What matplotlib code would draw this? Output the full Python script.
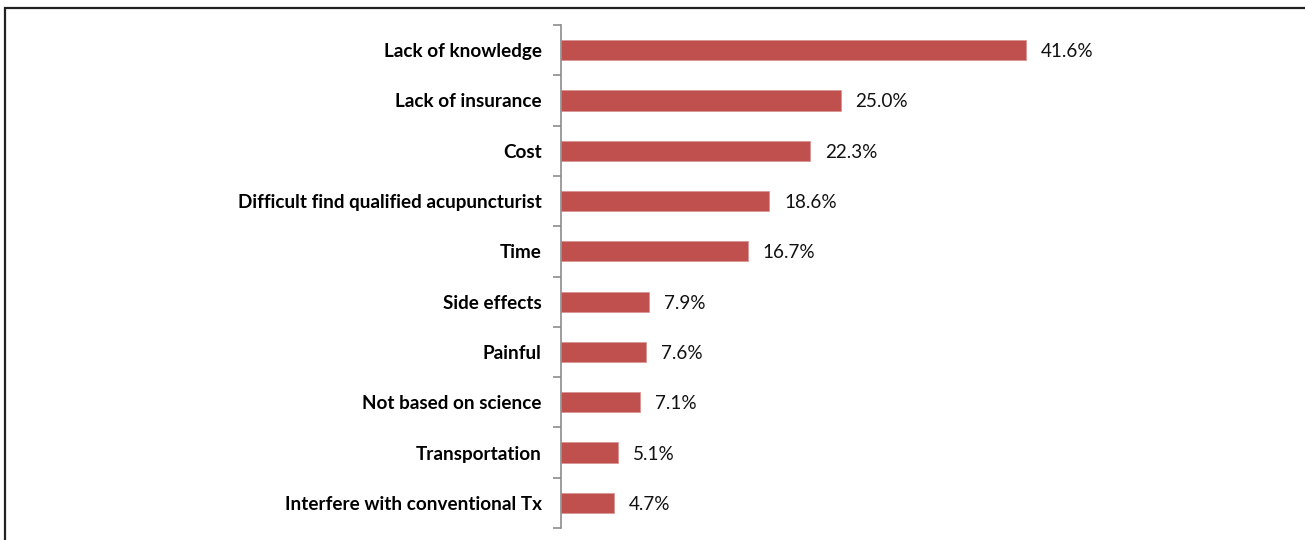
import matplotlib.pyplot as plt
from matplotlib.patches import Rectangle

# reasons for not using acupuncture (% of respondents)
reasons = [
    "Lack of knowledge",
    "Lack of insurance",
    "Cost",
    "Difficult find qualified acupuncturist",
    "Time",
    "Side effects",
    "Painful",
    "Not based on science",
    "Transportation",
    "Interfere with conventional Tx",
]
percent = [41.6, 25.0, 22.3, 18.6, 16.7, 7.9, 7.6, 7.1, 5.1, 4.7]

plt.rcParams['font.family'] = ['Lato', 'DejaVu Sans']

W, H = 1305, 540
fig = plt.figure(figsize=(W / 100, H / 100), dpi=100)

# frame around the chart (top and left edges visible)
fig.patches.append(Rectangle((5 / W, -0.1), 1.2, 1 - 8 / H + 0.1,
                             transform=fig.transFigure, fill=False,
                             edgecolor="#222222", linewidth=1.6))

ax = fig.add_axes([561 / W, 1 - 528 / H, 559 / W, (528 - 25) / H])

y = list(range(len(reasons)))
ax.barh(y, percent, height=0.4, color="#C0504D", edgecolor="#D99694",
        linewidth=0.6)

for yi, v in zip(y, percent):
    ax.text(v + 1.35, yi + 0.03, f"{v:.1f}%", va="center", ha="left",
            fontsize=13.6, color="#111111")

ax.set_xlim(0, 50)
ax.set_ylim(len(reasons) - 0.5, -0.5)
ax.set_yticks([i - 0.5 for i in range(len(reasons) + 1)])
ax.set_yticklabels([])
ax.set_yticks(y, minor=True)
ax.set_yticklabels(reasons, minor=True, fontsize=13.6, fontweight="bold")
ax.tick_params(axis="y", which="minor", length=0, pad=14)
ax.tick_params(axis="y", which="major", length=6, width=1.2, color="#8C8C8C")
ax.set_xticks([])

for s in ["top", "right", "bottom"]:
    ax.spines[s].set_visible(False)
ax.spines["left"].set_color("#8C8C8C")
ax.spines["left"].set_linewidth(1.2)

fig.savefig("out.png", dpi=100)
